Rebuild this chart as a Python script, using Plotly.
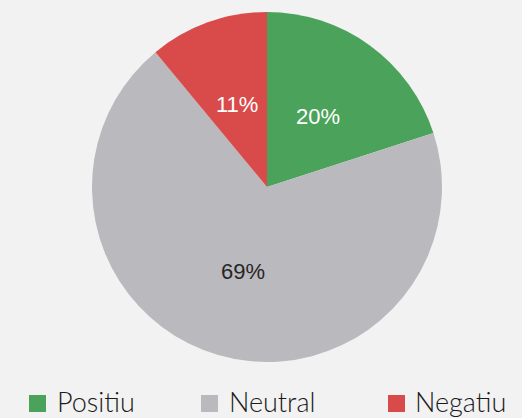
import math
import plotly.graph_objects as go

W, H = 522, 418

labels = ["Positiu", "Neutral", "Negatiu"]
values = [20, 69, 11]
colors = ["#4ba35b", "#bab9be", "#d94b4b"]
text_colors = ["#ffffff", "#262626", "#ffffff"]

# pie placement (pixels)
cx, cy, R = 267, 187, 175
label_r = 0.5 * R

# legend layout (pixels)
legend_marker_x = [29, 201, 388]
legend_text_x = [55, 227, 413]

fig = go.Figure(go.Pie(
    labels=labels,
    values=values,
    sort=False,
    direction="clockwise",
    rotation=0,
    marker=dict(colors=colors, line=dict(width=0)),
    textinfo="none",
    domain=dict(x=[(cx - R) / W, (cx + R) / W], y=[1 - (cy + R) / H, 1 - (cy - R) / H]),
    showlegend=False,
    hoverinfo="label+percent",
))

# percent labels at half radius, mid-angle of each slice
total = sum(values)
start = 0.0
for v, tc in zip(values, text_colors):
    mid = (start + v / 2) / total * 2 * math.pi
    start += v
    px_ = cx + label_r * math.sin(mid)
    py_ = cy - label_r * math.cos(mid)
    fig.add_annotation(
        x=px_ / W, y=1 - py_ / H, xref="paper", yref="paper",
        xanchor="center", yanchor="middle", showarrow=False,
        text=f"{round(v / total * 100)}%",
        font=dict(family="Liberation Sans", size=22, color=tc),
    )

for lab, col, mx, tx in zip(labels, colors, legend_marker_x, legend_text_x):
    fig.add_shape(
        type="rect", xref="paper", yref="paper",
        x0=mx / W, x1=(mx + 17) / W,
        y0=1 - 412 / H, y1=1 - 395 / H,
        fillcolor=col, line=dict(width=0),
    )
    fig.add_annotation(
        x=tx / W, y=1 - 401 / H, xref="paper", yref="paper",
        xanchor="left", yanchor="middle", showarrow=False,
        text=lab,
        font=dict(family="Lato", size=27, color="#1a1a1a", weight=300),
    )

fig.update_layout(
    width=W, height=H,
    margin=dict(l=0, r=0, t=0, b=0),
    paper_bgcolor="#f2f2f2",
    plot_bgcolor="#f2f2f2",
)

fig.write_html(
    "out.html",
    config={"displayModeBar": False},
    post_script="document.body.style.margin='0';",
)
